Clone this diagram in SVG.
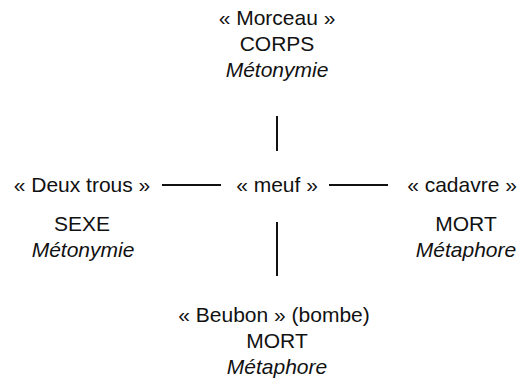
<svg xmlns="http://www.w3.org/2000/svg" width="520" height="378" viewBox="0 0 520 378">
<style>
text{font-family:"Liberation Sans",Arial,Helvetica,sans-serif;font-size:21px;fill:#111;text-anchor:middle}
.i{font-style:italic}
line{stroke:#111;stroke-width:2}
</style>
<rect width="520" height="378" fill="#fff"/>
<g id="connectors">
<line x1="277" y1="116" x2="277" y2="151"/>
<line x1="277" y1="222" x2="277" y2="276"/>
<line x1="162" y1="185" x2="221" y2="185"/>
<line x1="329" y1="185" x2="388" y2="185"/>
</g>
<g id="morceau">
<text x="277" y="25">« Morceau »</text>
<text x="277" y="51">CORPS</text>
<text x="277" y="77" class="i">Métonymie</text>
</g>
<g id="meuf">
<text x="277" y="192">« meuf »</text>
</g>
<g id="deux-trous">
<text x="82" y="192">« Deux trous »</text>
<text x="82" y="231">SEXE</text>
<text x="83" y="257" class="i">Métonymie</text>
</g>
<g id="cadavre">
<text x="462" y="192">« cadavre »</text>
<text x="466" y="231">MORT</text>
<text x="466" y="257" class="i">Métaphore</text>
</g>
<g id="beubon">
<text x="274" y="322">« Beubon » (bombe)</text>
<text x="277" y="348">MORT</text>
<text x="277" y="374" class="i">Métaphore</text>
</g>
</svg>
